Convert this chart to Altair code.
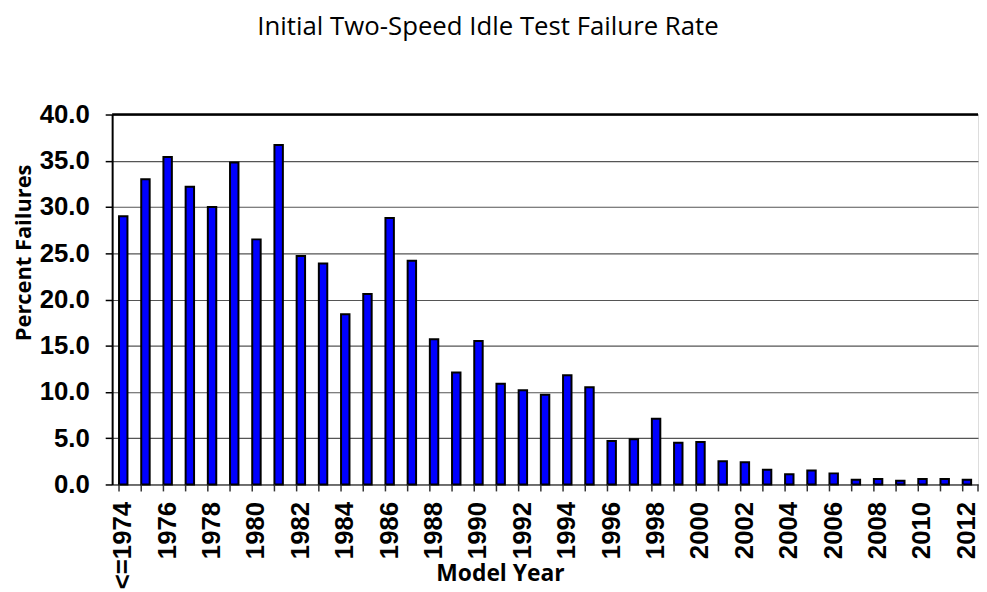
import altair as alt
import pandas as pd

years = ["<=1974", "1975", "1976", "1977", "1978", "1979", "1980", "1981", "1982", "1983",
         "1984", "1985", "1986", "1987", "1988", "1989", "1990", "1991", "1992", "1993",
         "1994", "1995", "1996", "1997", "1998", "1999", "2000", "2001", "2002", "2003",
         "2004", "2005", "2006", "2007", "2008", "2009", "2010", "2011", "2012"]
failure_pct = [29.0, 33.0, 35.4, 32.2, 30.0, 34.8, 26.5, 36.7, 24.7, 23.9,
               18.4, 20.6, 28.8, 24.2, 15.7, 12.1, 15.5, 10.9, 10.2, 9.7,
               11.8, 10.5, 4.7, 4.9, 7.1, 4.5, 4.6, 2.5, 2.4, 1.6,
               1.1, 1.5, 1.2, 0.5, 0.6, 0.4, 0.6, 0.6, 0.5]
y_ticks = [0, 5, 10, 15, 20, 25, 30, 35, 40]
chart_title = "Initial Two-Speed Idle Test Failure Rate"

df = pd.DataFrame({"year": years, "pct": failure_pct})

W, H = 873, 373
LABEL_FONT = "Liberation Sans"
TITLE_FONT = "Open Sans"

x_enc = alt.X(
    "year:N", sort=years,
    scale=alt.Scale(paddingInner=0.62, paddingOuter=0.31),
    axis=alt.Axis(
        title="Model Year", labelAngle=-90, labelFont=LABEL_FONT, labelFontSize=26,
        labelFontWeight="bold", labelColor="black", labelPadding=17,
        labelExpr="(datum.value == '<=1974' || toNumber(datum.value) % 2 == 0) ? datum.value : ''",
        labelOverlap=False, ticks=False, tickSize=0,
        domainColor="#666666", domainWidth=1.5,
        titleFont=TITLE_FONT, titleFontSize=23, titleFontWeight="bold", titleColor="black",
        titleX=391, titleY=97, titleAlign="center", titleBaseline="alphabetic",
    ),
)

bars = alt.Chart(df).mark_bar(color="#0000FF", stroke="black", strokeWidth=2).encode(
    x=x_enc,
    y=alt.Y(
        "pct:Q",
        scale=alt.Scale(domain=[0, 40], nice=False),
        axis=alt.Axis(
            title="Percent Failures", values=y_ticks, format=".1f",
            labelFont=LABEL_FONT, labelFontSize=26, labelFontWeight="bold",
            labelColor="black", labelPadding=16, tickSize=7, tickColor="black",
            tickWidth=1.5, domainColor="black", domainWidth=2,
            grid=True, gridColor="#555555", gridWidth=1.2,
            titleFont=TITLE_FONT, titleFontSize=22, titleFontWeight="bold", titleColor="black",
            titleX=-89, titleY=139, titleAlign="center", titleBaseline="middle", titleAngle=-90,
        ),
    ),
)

ticks = alt.Chart(df).mark_rule(color="#333333", strokeWidth=1.5).encode(
    x=alt.X("year:N", sort=years, bandPosition=0),
    y=alt.value(H),
    y2=alt.value(H + 7),
)

end_tick = alt.Chart(df.head(1)).mark_rule(color="#333333", strokeWidth=1.5).encode(
    x=alt.value(W), y=alt.value(H), y2=alt.value(H + 7)
)

top_line = alt.Chart(df.head(1)).mark_rule(color="black", strokeWidth=2.5).encode(
    x=alt.value(0), x2=alt.value(W), y=alt.value(0)
)

title_text = alt.Chart(df.head(1)).mark_text(
    font=TITLE_FONT, fontSize=26, fontWeight="normal", color="black",
    align="center", baseline="alphabetic",
).encode(x=alt.value(379), y=alt.value(-80), text=alt.value(chart_title))

chart = alt.layer(bars, ticks, end_tick, top_line, title_text).properties(
    width=W, height=H,
    autosize=alt.AutoSizeParams(type="none"),
    padding={"left": 105, "top": 105, "right": 1, "bottom": 104},
).configure_view(stroke="#666666", strokeWidth=1.2).configure(background="white")

chart.save("out.html", embed_options={"renderer": "svg", "actions": False})
